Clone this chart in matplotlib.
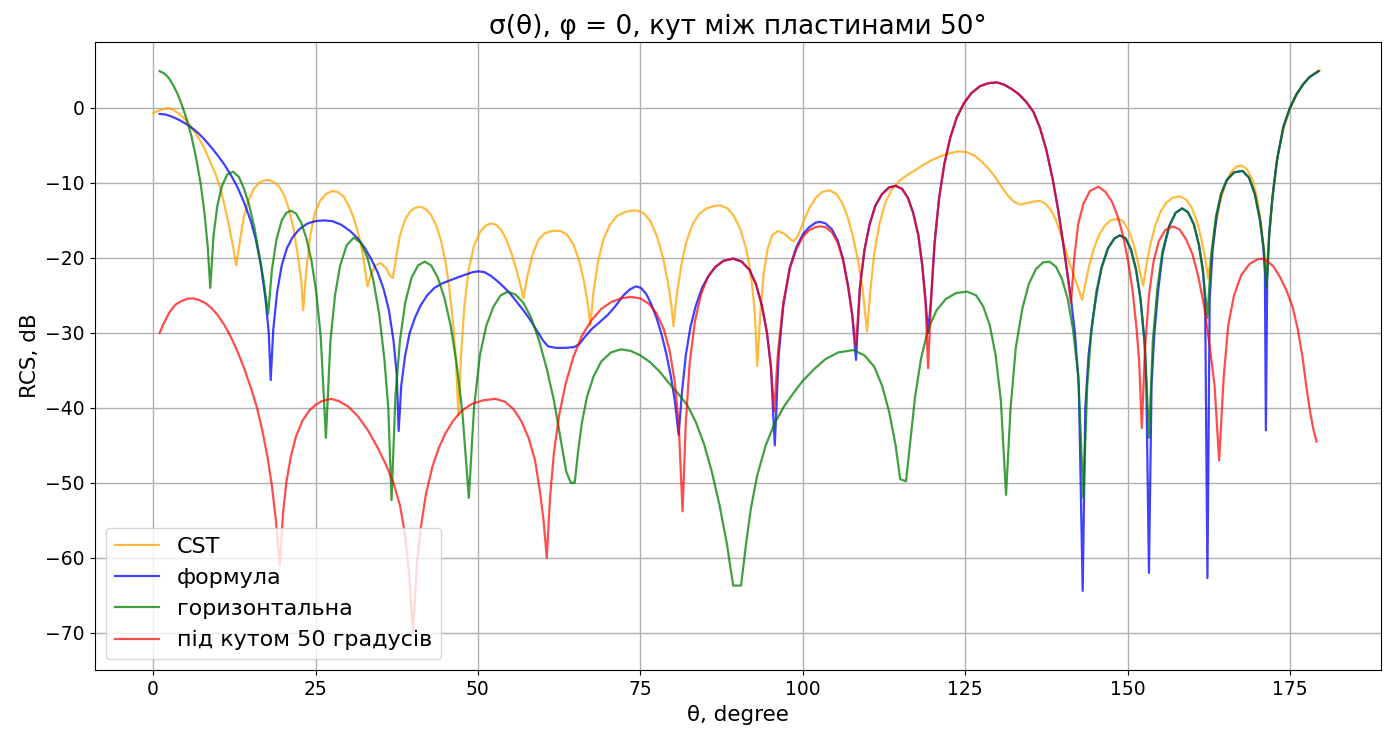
import matplotlib
matplotlib.use("Agg")
from matplotlib import pyplot as plt

# CST
cst_theta = [0, 0.8, 1.6, 2.4, 3.2, 4, 4.8, 5.6, 6.4, 7.2, 8, 8.8, 9.6, 10.3, 11, 11.7, 12.3, 12.8,
             13.4, 14, 14.7, 15.5, 16.3, 17, 17.8, 18.6, 19.4, 20.2, 20.9, 21.6, 22.3, 22.8, 23.1,
             23.6, 24.2, 24.9, 25.7, 26.6, 27.5, 28.4, 29.3, 30.1, 30.9, 31.6, 32.3, 32.7, 33, 33.5, 34.2,
             35, 35.8, 36.4, 36.9, 37.4, 38, 38.8, 39.6, 40.4, 41.2, 42, 42.8, 43.6, 44.3, 45, 45.6, 46.2,
             46.6, 47, 47.4, 47.9, 48.6, 49.4, 50.3, 51.2, 52, 52.8, 53.6, 54.4, 55.2, 56, 56.6, 57,
             57.6, 58.4, 59.3, 60.3, 61.5, 62.7, 63.7, 64.7, 65.6, 66.3, 66.9, 67.3, 67.8, 68.5, 69.3, 70.3,
             71.4, 72.6, 73.6, 74.6, 75.6, 76.6, 77.6, 78.5, 79.3, 79.8, 80.1, 80.6, 81.3, 82.1, 83, 84,
             85.2, 86.3, 87.3, 88.4, 89.4, 90.4, 91.3, 92, 92.6, 93, 93.5, 94, 94.6, 95.3, 96.2, 97.2, 98.1,
             98.6, 99.3, 100.1, 101, 102, 103, 104.2, 105.2, 106.1, 106.9, 107.7, 108.5, 109.2, 109.9,
             110.4, 111, 111.8, 112.7, 113.7, 114.8, 116, 117.3, 118.6, 120, 121.4, 122.8, 124, 125.3,
             126.5, 127.6, 128.7, 129.7, 130.6, 131.5, 132.5, 133.5, 134.5, 135.5, 136.5, 137.4, 138.2,
             138.9, 139.6, 140.3, 141, 141.7, 142.4, 143, 143.5, 144.1, 144.8, 145.6, 146.5, 147.4, 148.4,
             149.3, 150.1, 150.8, 151.4, 152, 152.4, 152.9, 153.5, 154.2, 155, 155.9, 156.9, 158, 159,
             159.9, 160.7, 161.4, 162, 162.4, 162.9, 163.5, 164.2, 165, 165.9, 166.8, 167.6, 168.4, 169.2,
             169.9, 170.5, 171, 171.4, 171.9, 172.5, 173.2, 174, 175, 176, 177, 178, 179.6]
cst_db = [-0.7, -0.4, -0.15, -0.05, -0.3, -0.8, -1.4, -2.2, -3.2, -4.3, -5.6, -7.2, -8.8, -10.6, -13, -15.8, -18.5, -21,
          -17.5, -14.5, -12.3, -10.8, -10, -9.7, -9.6, -9.9, -10.5, -11.7, -13.5, -16, -19.8, -23, -27,
          -21.5, -17, -14, -12.4, -11.5, -11.1, -11.2, -11.8, -13, -14.7, -16.8, -19.6, -22, -23.8, -22.3, -21,
          -20.7, -21.3, -22.3, -22.7, -20, -17, -14.9, -13.8, -13.3, -13.2, -13.5, -14.3, -15.7, -17.6, -20.5, -24, -29,
          -33.5, -41, -33, -26.5, -21.5, -18.4, -16.6, -15.7, -15.4, -15.6, -16.3, -17.6, -19.5, -21.8, -23.8, -25.4,
          -22.5, -19.6, -17.6, -16.7, -16.4, -16.4, -16.9, -18.2, -20.4, -23, -26, -29, -24.5, -20.5, -17.6, -15.6,
          -14.4, -13.9, -13.7, -13.7, -14.1, -15.2, -17.2, -20, -23.5, -26.5, -29.1, -25, -21, -17.8, -15.6, -14.2,
          -13.4, -13.1, -13, -13.4, -14.4, -16.2, -18.8, -22, -27, -34.4, -27, -22, -18.8, -17, -16.4, -16.8, -17.5,
          -17.8, -17, -15.2, -13.4, -12, -11.2, -11, -11.5, -12.7, -14.5, -17, -20.3, -24, -29.8,
          -24.5, -19.5, -15.5, -12.7, -10.9, -9.8, -9, -8.3, -7.6, -6.9, -6.4, -6, -5.8, -5.9,
          -6.4, -7.2, -8.2, -9.3, -10.5, -11.6, -12.5, -12.9, -12.7, -12.5, -12.4, -12.8, -13.6,
          -14.8, -16.5, -18.5, -20.5, -22.3, -24, -25.6, -23.5, -21, -18.8, -17, -15.7, -15, -14.8,
          -15.1, -16.2, -17.8, -19.8, -22.2, -23.7, -21, -18.3, -15.9, -14, -12.7, -12, -11.8, -12.2,
          -13.3, -15.2, -17.6, -20.3, -22.7, -19.5, -16, -12.8, -10.3, -8.6, -7.8, -7.7, -8.2, -9.5,
          -11.8, -15, -19, -22, -16, -10.5, -6, -2.8, -0.2, 1.7, 3.1, 4.1, 5]

# формула
formula_theta = [1, 2, 3, 4, 5, 6, 7, 8, 9, 10, 11, 12, 13, 14, 15, 15.8, 16.6, 17.3, 17.8, 18.1,
                 18.5, 19.1, 19.8, 20.6, 21.5, 22.6, 23.8, 25, 26.3, 27.6, 29, 30.3, 31.5, 32.6, 33.6, 34.6,
                 35.5, 36.3, 37, 37.5, 37.8, 38.2, 38.8, 39.5, 40.3, 41.2, 42.2, 43.3, 44.5, 45.7, 46.9, 48.2,
                 49.2, 50.1, 51, 52, 53, 54, 55, 56, 57, 58, 59, 60, 60.8, 62, 63.5, 64.8, 65.6, 66.5, 67.5,
                 68.7, 70, 71.2, 72.4, 73.4, 74.3, 75.1, 75.9, 76.7, 77.5, 78.3, 79, 79.7, 80.3, 80.9,
                 81.4, 82, 82.7, 83.5, 84.5, 85.5, 86.6, 87.8, 89.3, 90.6, 91.8, 92.8, 93.7, 94.5, 95.1, 95.7,
                 96.3, 97, 98, 99, 100, 101, 102, 102.7, 103.5, 104.5, 105.4, 106.2, 107, 107.6, 108.2,
                 108.8, 109.5, 110.3, 111.2, 112.2, 113.3, 114.3, 115.3, 116.2, 117, 117.8, 118.4, 118.9, 119.3,
                 119.8, 120.3, 121, 121.8, 122.7, 123.7, 124.8, 126, 127.3, 128.6, 129.9, 131, 132.2, 133.3,
                 134.4, 135.5, 136.5, 137.5, 138.5, 139.3, 140, 140.7, 141.3, 141.9, 142.5, 143.1,
                 143.5, 144, 144.6, 145.3, 146, 147, 148, 148.8, 149.7, 150.5, 151.3, 152, 152.6, 152.9, 153.3,
                 153.7, 154.1, 154.7, 155.4, 156.4, 157.4, 158.4, 159.3, 160.2, 161, 161.6, 161.95, 162.3,
                 162.65, 163.1, 163.7, 164.4, 165.3, 166.4, 167.7, 168.7, 169.6, 170.4, 170.9, 171.15, 171.3,
                 171.5, 171.8, 172.3, 173, 174, 175, 176, 177, 178, 179.4]
formula_db = [-0.8, -0.9, -1.2, -1.6, -2.1, -2.7, -3.4, -4.3, -5.3, -6.4, -7.6, -9, -10.6, -12.6, -15, -17.5, -21, -25.5, -30, -36.3,
              -29.5, -24.5, -21, -18.7, -17.2, -16.1, -15.4, -15.1, -15, -15.1, -15.6, -16.4, -17.4, -18.7, -20.2, -22,
              -24.2, -27, -31, -35.5, -43.1, -37, -33, -30, -28, -26.3, -25, -24, -23.4, -23, -22.6, -22.2,
              -21.9, -21.8, -21.9, -22.4, -23.1, -23.9, -24.8, -25.9, -27, -28.2, -29.6, -31, -31.8, -32, -32, -31.9, -31.5, -30.5, -29.5,
              -28.6, -27.6, -26.4, -25, -24.2, -23.8, -24, -24.8, -26.2, -28, -30.3, -32.8, -35.8, -39, -43.6,
              -38, -33, -29.3, -26.5, -24, -22.4, -21.2, -20.4, -20.1, -20.5, -21.6, -23.5, -26.3, -30, -34.5, -45,
              -33, -26.5, -21.3, -18.6, -16.9, -15.9, -15.3, -15.2, -15.4, -16.2, -17.7, -20.1, -23.8, -27.5, -33.6,
              -24, -19, -15.5, -13, -11.5, -10.6, -10.4, -10.8, -12, -14, -17, -21, -25.5, -30,
              -25, -18, -12, -7.5, -4, -1.3, 0.6, 2.0, 2.9, 3.3, 3.4, 3.1, 2.5, 1.8,
              0.8, -0.5, -2.6, -5.6, -9.6, -13.5, -17.5, -21.8, -25.5, -30, -37, -64.4,
              -40, -33, -28.5, -24.5, -21.3, -18.7, -17.4, -17, -17.4, -18.8, -21.5, -25.5, -31, -37, -62,
              -37, -30.5, -24.5, -19.5, -15.8, -14, -13.4, -13.9, -15.5, -18.3, -21.5, -26, -62.7,
              -25.5, -19, -14.5, -11.5, -9.6, -8.6, -8.4, -9.3, -11.5, -15, -18.5, -22, -43,
              -23, -17, -12, -7, -2.5, 0, 1.8, 3.1, 4.1, 4.9]

# горизонтальна
horiz_theta = [1, 1.7, 2.4, 3.1, 3.8, 4.5, 5.2, 5.9, 6.6, 7.3, 7.9, 8.4, 8.8,
               9.3, 9.9, 10.6, 11.4, 12.3, 13.2, 14, 14.8, 15.6, 16.3, 17, 17.7,
               18.3, 19, 19.8, 20.5, 21.2, 22, 22.8, 23.6, 24.4, 25.1, 25.8, 26.6,
               27.3, 28, 28.8, 29.8, 30.9, 32, 33, 33.9, 34.8, 35.6, 36.2, 36.7,
               37.3, 38, 38.8, 39.8, 40.8, 41.8, 42.8, 43.8, 44.8, 45.8, 46.7, 47.6, 48.6,
               49.4, 50.3, 51.3, 52.4, 53.5, 54.6, 55.8, 57, 58.2, 59.4, 60.6, 61.7, 62.7, 63.6, 64.3, 64.9,
               65.4, 66, 66.8, 67.8, 69, 70.5, 72, 73.5, 75, 76.5, 78, 79.5, 81, 82.2, 83.5, 84.8, 86, 87.2,
               88.3, 89.3, 90.5, 91.3, 92, 93, 94.3, 95.7, 97.2, 98.6, 100, 101.8, 103.5, 105.5, 107.8, 109.5,
               111, 112.2, 113.3, 114.3, 115, 115.9, 116.5, 117.3, 118.2, 119.3, 120.6, 122, 123.6, 125.3,
               126.7, 127.8, 128.8, 129.7, 130.5, 131.3, 132, 132.8, 133.8, 134.8, 135.9, 137, 138, 139,
               139.9, 140.8, 141.6, 142.4, 143.2, 143.8, 144.4, 145.2, 146, 147, 148, 148.8, 149.7, 150.5,
               151.3, 152, 152.7, 153.3, 153.9, 154.6, 155.4, 156.4, 157.4, 158.4, 159.3, 160.2, 161, 161.7,
               162.3, 162.9, 163.6, 164.4, 165.3, 166.4, 167.7, 168.7, 169.6, 170.4, 171, 171.4, 171.8,
               172.3, 173, 174, 175, 176, 177, 178, 179.4]
horiz_db = [4.9, 4.6, 4.0, 3.0, 1.8, 0.2, -1.6, -3.8, -6.6, -10, -14, -18.5, -24,
            -17, -13, -10.4, -8.9, -8.5, -9.2, -10.8, -13, -16, -19.5, -23, -27.5,
            -21.5, -17.5, -15, -14, -13.7, -14.1, -15.3, -17.4, -20.5, -24.5, -30.5, -44,
            -31, -25, -21, -18.3, -17.3, -18, -20, -23, -27.5, -33.5, -40, -52.3,
            -38.5, -31, -26, -22.6, -21, -20.5, -21, -22.6, -25.2, -29, -34, -40.5, -52,
            -40, -33, -29, -26.5, -25, -24.5, -24.9, -26, -28, -31, -34.8, -39, -44, -48.5, -50, -50,
            -46, -42, -38.5, -35.8, -33.8, -32.6, -32.2, -32.4, -33, -33.9, -35.2, -36.8, -38.3, -39.6, -41.8, -44.8, -48.5, -53,
            -58, -63.7, -63.7, -58, -53.5, -49, -45, -42, -39.7, -38, -36.4, -34.8, -33.5, -32.6, -32.3, -33,
            -34.5, -37, -40.5, -45, -49.5, -49.8, -45, -38.5, -33.5, -29.5, -27, -25.5, -24.7, -24.5,
            -25, -26.5, -29, -33, -39, -51.6, -40, -32, -26.8, -23.5, -21.5, -20.6, -20.5, -21.2,
            -22.8, -25.5, -29.5, -35.5, -52, -37, -30, -24.5, -21.3, -18.7, -17.4, -17, -17.4, -18.8,
            -21.5, -25.5, -32, -44, -31, -24, -19, -15.8, -14, -13.4, -13.9, -15.5, -18.3, -22.5,
            -28, -19.5, -14.5, -11.5, -9.6, -8.6, -8.4, -9.3, -11.5, -15, -19, -24, -17,
            -12, -7, -2.5, 0, 1.8, 3.1, 4.1, 4.9]

# під кутом 50 градусів
tilt_theta = [1, 1.5, 2, 2.5, 3, 3.5, 4.5, 5.3, 6.1, 7, 8, 9, 10, 11, 12, 13, 14, 15, 16, 16.8, 17.6, 18.3,
              18.9, 19.5, 20, 20.5, 21.2, 22, 23, 24, 25, 26, 27.4, 28.6, 30, 31.5, 33, 34.5, 35.8, 37, 38,
              38.8, 39.4, 40, 40.6, 41.2, 42, 43, 44, 45, 46.2, 47.5, 49, 50.8, 52.7, 54.2, 55.5, 56.7, 57.8,
              58.8, 59.6, 60.1, 60.6, 61.1, 61.7, 62.5, 63.5, 64.7, 66, 67.5, 69, 70.5, 72, 73.5, 75, 76.3,
              77.5, 78.6, 79.5, 80.3, 80.9, 81.5, 82, 82.6, 83.4, 84.3, 85.3, 86.5, 87.8, 89.3, 90.6, 91.8,
              92.8, 93.7, 94.5, 95.1, 95.6, 96.2, 97, 98, 99, 100, 101, 102, 102.7, 103.5, 104.5, 105.4,
              106.2, 107, 107.6, 108.2, 108.8, 109.5, 110.3, 111.2, 112.2, 113.3, 114.3, 115.3, 116.2, 117,
              117.8, 118.4, 118.9, 119.3, 119.8, 120.3, 121, 121.8, 122.7, 123.7, 124.8, 126, 127.3, 128.6,
              129.9, 131, 132.2, 133.3, 134.4, 135.5, 136.5, 137.5, 138.5, 139.3, 140, 140.7, 141.3, 141.8,
              142.4, 143.2, 144.2, 145.5, 146.6, 147.6, 148.5, 149.3, 150.1, 150.8, 151.4, 151.8, 152.2,
              152.7, 153.3, 154, 154.8, 155.8, 157, 158, 159, 160, 160.9, 161.8, 162.6, 163.4, 164.1, 164.8,
              165.5, 166.4, 167.5, 168.8, 170, 170.7, 171.5, 172.5, 173.5, 174.5, 175.4, 176.2, 176.9,
              177.5, 178.1, 178.6, 179.1]
tilt_db = [-30, -29, -28.1, -27.3, -26.7, -26.2, -25.7, -25.45, -25.4, -25.6, -26, -26.7, -27.7, -29, -30.6, -32.5,
           -34.7, -37.2, -40, -43, -46.5, -50.5, -55, -61, -54, -50, -46.5, -43.8, -41.7, -40.4, -39.6, -39.1, -38.8,
           -39.1, -39.8, -41.1, -42.9, -45.2, -47.5, -50, -53, -57, -62, -70, -61, -56, -51.5, -47.8, -45.3, -43.4,
           -41.7, -40.4, -39.5, -39, -38.8, -39.2, -40.2, -41.8, -44, -47, -51.5, -55, -60, -52, -46, -41, -36.8,
           -33.2, -30.4, -28.3, -26.8, -25.9, -25.4, -25.2, -25.4, -26.1, -27.4, -29.5, -32.3, -36.5, -42, -53.8,
           -42, -34, -28.5, -25, -22.7, -21.2, -20.4, -20.1, -20.5, -21.6, -23.5, -26.3, -30, -34.5, -40.5,
           -32.5, -26, -21.5, -18.9, -17.2, -16.3, -15.9, -15.8, -15.9, -16.6, -18, -20.3, -24, -27.5, -31.8,
           -24, -19, -15.5, -13, -11.5, -10.6, -10.4, -10.8, -12, -14, -17, -21, -26, -34.7,
           -25, -18, -12, -7.5, -4, -1.3, 0.6, 2.0, 2.9, 3.3, 3.4, 3.1, 2.5, 1.8,
           0.8, -0.5, -2.6, -5.6, -9.6, -13.5, -17.5, -21.8, -26, -20,
           -15.5, -12.8, -11.1, -10.5, -11.2, -12.5, -14.5, -17, -20.5, -24.5, -29.5, -34, -42.7,
           -32, -25, -20.5, -17.8, -16.3, -15.8, -16.2, -17.5, -19.5, -22.5, -26.5, -31.5, -37, -47, -36,
           -29, -25, -22.3, -20.8, -20.2, -20.1, -20.4, -21.2, -22.6, -24.4, -26.5, -29.5, -33,
           -37, -40.5, -42.8, -44.5]

plt.figure(figsize=(13.92, 7.35), dpi=100)
plt.plot(cst_theta, cst_db, color="orange", alpha=0.75, linewidth=1.6, label="CST")
plt.plot(formula_theta, formula_db, color="blue", alpha=0.75, linewidth=1.6, label="формула")
plt.plot(horiz_theta, horiz_db, color="green", alpha=0.75, linewidth=1.6, label="горизонтальна")
plt.plot(tilt_theta, tilt_db, color="red", alpha=0.7, linewidth=1.6, label="під кутом 50 градусів")

plt.title("σ(θ), φ = 0, кут між пластинами 50°", fontsize=19)
plt.xlabel("θ, degree", fontsize=15.5)
plt.ylabel("RCS, dB", fontsize=15.5)
plt.xticks(fontsize=13.5)
plt.yticks(fontsize=13.5)
plt.xlim(-9, 189)
plt.ylim(-75, 8.8)
plt.grid(True, linewidth=1.0)
plt.legend(loc="lower left", fontsize=16)
plt.subplots_adjust(left=0.068, right=0.992, top=0.943, bottom=0.088)
plt.savefig("out.png", dpi=100)
